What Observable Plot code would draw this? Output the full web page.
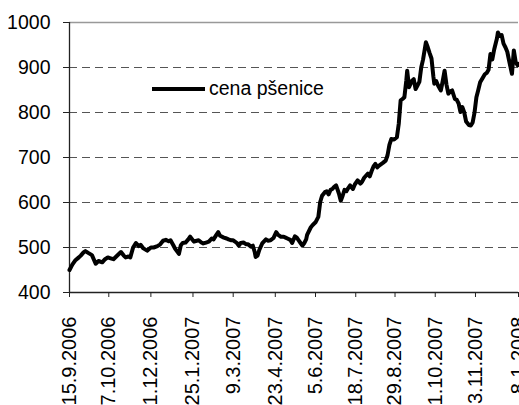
<!DOCTYPE html>
<html>
<head>
<meta charset="utf-8">
<script src="https://cdn.jsdelivr.net/npm/d3@7"></script>
<script src="https://cdn.jsdelivr.net/npm/@observablehq/plot@0.6"></script>
<style>
  html, body { margin: 0; padding: 0; background: #fff; }
  #wrap { position: relative; width: 519px; height: 405px; overflow: hidden; font-family: "Liberation Sans", Arial, sans-serif; }
  #legend { position: absolute; left: 152px; top: 77px; display: flex; align-items: center; font-size: 19.5px; color: #000; }
  #legend .swatch { width: 53px; height: 4px; background: #000; margin-right: 4px; }
</style>
</head>
<body>
<div id="wrap"><div id="legend"><span class="swatch"></span><span>cena pšenice</span></div></div>
<script>
// start date of the series
const startDate = "2006-09-15";
// days since start date for each reading
const dayOffsets = [0,3,6,10,12,15,17,20,24,28,31,35,38,41,44,47,50,55,58,60,63,65,68,71,74,76,79,83,87,90,94,97,100,103,106,108,111,113,117,119,121,124,127,129,133,136,138,141,143,146,149,152,154,157,159,161,165,168,170,173,175,179,181,183,186,189,191,194,196,198,199,201,203,206,210,212,215,218,221,223,226,229,231,233,236,238,241,243,245,247,249,251,253,254,258,260,263,266,268,270,273,275,277,279,281,283,285,288,290,292,294,296,298,300,303,305,308,311,313,315,319,321,323,325,327,329,331,335,338,340,342,344,347,350,352,354,356,358,360,361,363,366,368,370,372,374,376,378,381,383,385,387,389,390,392,394,397,399,401,403,405,407,409,412,414,416,418,420,422,424,427,429,431,433,435,437,439,442,444,446,448,450,452,454,457,458,460,462,464,466,468,470,473,475,477,479,480];
// wheat price
const prices = [450,462,471,478,482,489,492,488,483,464,470,467,474,478,476,474,480,490,482,478,480,478,500,510,503,506,498,493,500,500,503,507,515,517,514,516,505,497,486,505,510,511,518,524,513,515,516,511,509,511,513,520,518,528,534,526,522,520,518,516,516,510,504,510,511,507,507,502,504,490,479,482,495,509,518,515,516,521,534,528,524,524,522,520,517,510,525,522,516,510,504,510,518,528,545,550,556,568,601,615,623,625,618,628,630,635,638,620,604,615,628,625,632,638,630,640,649,642,647,655,664,658,670,680,686,678,682,688,693,705,728,741,740,745,775,827,830,834,870,893,856,870,874,852,860,868,900,918,956,945,932,920,880,864,870,860,849,870,893,862,842,847,849,830,828,820,801,812,800,780,772,771,778,800,834,850,867,878,885,888,895,930,918,940,965,978,970,972,953,945,935,915,886,938,912,905,908];
// x tick dates
const xTicks = ["2006-09-15","2006-10-27","2006-12-11","2007-01-25","2007-03-09","2007-04-23","2007-06-05","2007-07-18","2007-08-29","2007-10-11","2007-11-23","2008-01-08"];
// y ticks
const yTicks = [400,500,600,700,800,900,1000];
const gridValues = [500,600,700,800,900];
const seriesName = "cena pšenice";

const start = new Date(startDate);
const data = dayOffsets.map((d, i) => ({date: d3.utcDay.offset(start, d), price: prices[i]}));
const tickDates = xTicks.map(s => new Date(s));
const fmt = d3.utcFormat("%-d.%-m.%Y");

const chart = Plot.plot({
  width: 519,
  height: 405,
  marginLeft: 69,
  marginRight: 1,
  marginTop: 22,
  marginBottom: 113,
  style: {fontFamily: "'Liberation Sans', Arial, sans-serif", color: "#000", background: "transparent", overflow: "visible"},
  x: {type: "utc", domain: [tickDates[0], tickDates[tickDates.length - 1]]},
  y: {domain: [400, 1000]},
  marks: [
    Plot.gridY(gridValues, {stroke: "#555", strokeOpacity: 1, strokeDasharray: "8,5", strokeWidth: 1}),
    Plot.ruleY([yTicks[yTicks.length - 1]], {stroke: "#999", strokeWidth: 1.5}),
    Plot.ruleY([yTicks[0]], {stroke: "#222", strokeWidth: 1.3}),
    Plot.ruleX([tickDates[0]], {stroke: "#222", strokeWidth: 1.3}),
    Plot.axisY(yTicks, {tickSize: 6, tickPadding: 13, fontSize: 19.5, stroke: "#222", tickFormat: d => String(d), label: null}),
    Plot.axisX(tickDates, {tickSize: 5, tickPadding: 19, tickRotate: -90, fontSize: 20, tickFormat: fmt, stroke: "#222", label: null}),
    Plot.line(data, {x: "date", y: "price", stroke: "#000", strokeWidth: 4, strokeLinejoin: "round", strokeLinecap: "round"})
  ]
});
chart.setAttribute("aria-label", seriesName);
document.getElementById("wrap").prepend(chart);
</script>
</body>
</html>
